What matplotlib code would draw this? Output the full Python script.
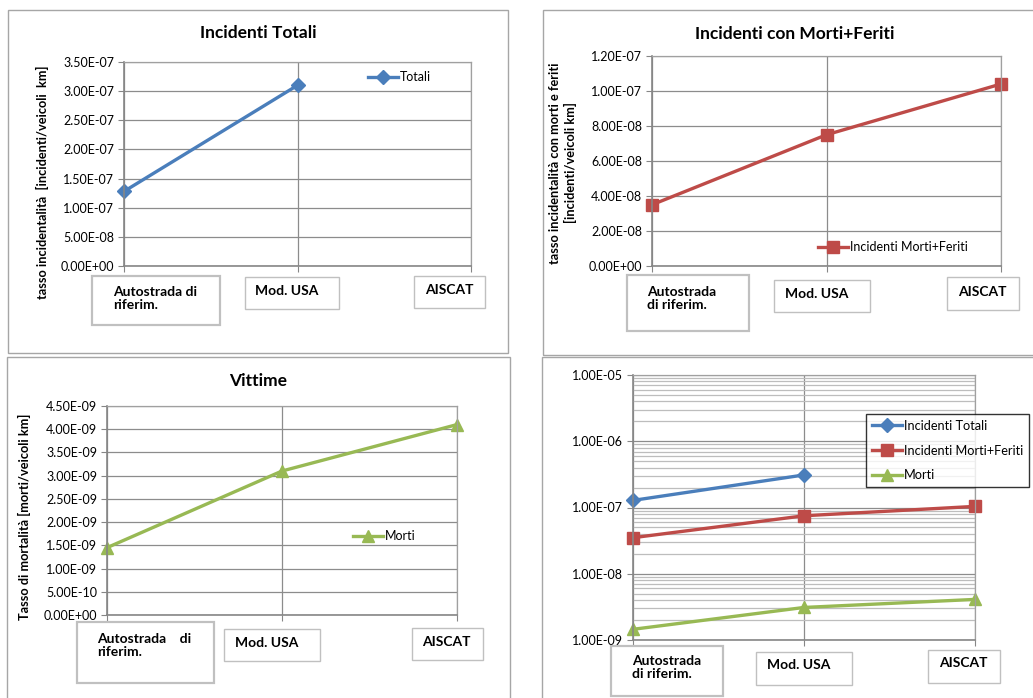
import matplotlib
matplotlib.use("Agg")
import matplotlib.pyplot as plt
from matplotlib.patches import Rectangle
from matplotlib.ticker import FuncFormatter, MultipleLocator, LogLocator, NullFormatter
import numpy as np

plt.rcParams['font.family'] = ['Lato', 'DejaVu Sans']

# ---------------- data ----------------
categories = ["Autostrada di riferim.", "Mod. USA", "AISCAT"]
totali = [1.28e-07, 3.10e-07, None]
morti_feriti = [3.5e-08, 7.5e-08, 1.04e-07]
morti = [1.45e-09, 3.10e-09, 4.10e-09]

titles = ["Incidenti Totali", "Incidenti con Morti+Feriti", "Vittime"]
ylabels = ["tasso incidentalità  [incidenti/veicoli  km]",
           "tasso incidentalità con morti e feriti\n[incidenti/veicoli km]",
           "Tasso di mortalità [morti/veicoli km]"]
legend_names = ["Totali", "Incidenti Morti+Feriti", "Morti"]
legend_names_log = ["Incidenti Totali", "Incidenti Morti+Feriti", "Morti"]
cat_wrap = {
    1: ["Autostrada di\nriferim.", "Mod. USA", "AISCAT"],
    2: ["Autostrada\ndi riferim.", "Mod. USA", "AISCAT"],
    3: ["Autostrada    di\nriferim.", "Mod. USA", "AISCAT"],
    4: ["Autostrada\ndi riferim.", "Mod. USA", "AISCAT"],
}

BLUE = "#4A7EBB"
RED = "#BE4B48"
GREEN = "#98B954"
GRID = "#8C8C8C"

W, H = 1033, 698
fig = plt.figure(figsize=(W / 100, H / 100), dpi=100)


def fx(x):
    return x / W


def fy(y):
    return 1 - y / H


def add_ax(x0, y0, x1, y1):
    return fig.add_axes([fx(x0), fy(y1), fx(x1) - fx(x0), fy(y0) - fy(y1)])


def rect(x0, y0, x1, y1, color="#A6A6A6", lw=1.0):
    r = Rectangle((fx(x0), fy(y1)), fx(x1) - fx(x0), fy(y0) - fy(y1),
                  transform=fig.transFigure, fill=False, edgecolor=color,
                  linewidth=lw, zorder=0)
    fig.patches.append(r)


sci = FuncFormatter(lambda v, p: f"{v:.2E}")
TICK_FS = 9


def style_ax(ax, ymax, step):
    ax.set_xlim(0, 2)
    ax.set_ylim(0, ymax)
    ax.yaxis.set_major_locator(MultipleLocator(step))
    ax.yaxis.set_major_formatter(sci)
    ax.set_xticks(range(len(categories)))
    ax.xaxis.set_major_formatter(NullFormatter())
    ax.grid(True, color=GRID, lw=0.9)
    ax.set_axisbelow(True)
    for s in ["top", "right"]:
        ax.spines[s].set_color("#A0A0A0")
        ax.spines[s].set_linewidth(0.9)
    for s in ["left", "bottom"]:
        ax.spines[s].set_color("#868686")
        ax.spines[s].set_linewidth(1.2)
    ax.tick_params(axis="y", length=4, color="#868686", labelsize=TICK_FS, pad=3)
    ax.tick_params(axis="x", length=4, color="#868686", direction="out")


def cat_boxes(labels, boxes, texts):
    for lab, b, t in zip(labels, boxes, texts):
        rect(*b[:4], color="#C0C0C0", lw=b[4])
        fig.text(fx(t[0]), fy(t[1]), lab, fontsize=10, fontweight="bold",
                 ha="left", va="top", linespacing=1.1)


xs = np.arange(len(categories))

# panel borders
rect(8, 10, 508, 353)
rect(543, 10, 1045, 355)
rect(7, 357, 510, 705)
rect(542, 357, 1045, 705)

# ---------- Panel 1 ----------
ax1 = add_ax(124, 62, 471, 266)
style_ax(ax1, 3.5e-07, 5e-08)
xv = [x for x, v in zip(xs, totali) if v is not None]
yv = [v for v in totali if v is not None]
l1, = ax1.plot(xv, yv, color=BLUE, lw=2.4, marker="D", ms=7, clip_on=False)
fig.text(fx(258), fy(33), titles[0], fontsize=12.5, fontweight="bold", ha="center", va="center")
fig.text(fx(42), fy(182), ylabels[0], fontsize=9.2, fontweight="bold", rotation=90, ha="center", va="center")
fig.legend([l1], [legend_names[0]], loc="center left", bbox_to_anchor=(fx(362), fy(77)),
           frameon=False, fontsize=9, handlelength=2.4, handletextpad=0.1, borderpad=0)
cat_boxes(cat_wrap[1],
          [(92, 276, 220, 325, 1.6), (245, 277, 339, 309, 1.0), (414, 276, 485, 308, 1.0)],
          [(113, 286), (255, 285), (425, 284)])

# ---------- Panel 2 ----------
ax2 = add_ax(652, 56, 1001, 266)
style_ax(ax2, 1.2e-07, 2e-08)
l2, = ax2.plot(xs, morti_feriti, color=RED, lw=2.4, marker="s", ms=8, clip_on=False)
fig.text(fx(795), fy(34), titles[1], fontsize=12.5, fontweight="bold", ha="center", va="center")
fig.text(fx(563), fy(163), ylabels[1], fontsize=9.2, fontweight="bold", rotation=90,
         ha="center", va="center", linespacing=1.25)
fig.legend([l2], [legend_names[1]], loc="center left", bbox_to_anchor=(fx(812), fy(247)),
           frameon=False, fontsize=9, handlelength=2.4, handletextpad=0.1, borderpad=0)
cat_boxes(cat_wrap[2],
          [(627, 275, 749, 331, 1.6), (774, 280, 870, 312, 1.0), (947, 277, 1019, 310, 1.0)],
          [(647, 286), (785, 288), (958, 286)])

# ---------- Panel 3 ----------
ax3 = add_ax(107, 406, 457, 615)
style_ax(ax3, 4.5e-09, 5e-10)
l3, = ax3.plot(xs, morti, color=GREEN, lw=2.4, marker="^", ms=8, clip_on=False)
fig.text(fx(258), fy(381), titles[2], fontsize=12.5, fontweight="bold", ha="center", va="center")
fig.text(fx(24), fy(517), ylabels[2], fontsize=9.2, fontweight="bold", rotation=90, ha="center", va="center")
fig.legend([l3], [legend_names[2]], loc="center left", bbox_to_anchor=(fx(347), fy(536)),
           frameon=False, fontsize=9, handlelength=2.4, handletextpad=0.1, borderpad=0)
cat_boxes(cat_wrap[3],
          [(77, 622, 214, 683, 1.6), (224, 629, 320, 661, 1.0), (412, 628, 483, 660, 1.0)],
          [(97, 633), (235, 637), (422, 636)])

# ---------- Panel 4 (log) ----------
ax4 = add_ax(633, 375, 975, 640)
ax4.set_yscale("log")
ax4.set_xlim(0, 2)
ax4.set_ylim(1e-09, 1e-05)
ax4.yaxis.set_major_locator(LogLocator(base=10, numticks=10))
ax4.yaxis.set_minor_locator(LogLocator(base=10, subs=np.arange(2, 10), numticks=50))
ax4.yaxis.set_major_formatter(sci)
ax4.yaxis.set_minor_formatter(NullFormatter())
ax4.set_xticks(range(len(categories)))
ax4.xaxis.set_major_formatter(NullFormatter())
ax4.grid(True, which="major", color=GRID, lw=0.9)
ax4.grid(True, which="minor", axis="y", color="#BDBDBD", lw=0.9)
ax4.set_axisbelow(True)
for s in ["top", "right"]:
    ax4.spines[s].set_color("#A0A0A0")
    ax4.spines[s].set_linewidth(0.9)
for s in ["left", "bottom"]:
    ax4.spines[s].set_color("#868686")
    ax4.spines[s].set_linewidth(1.2)
ax4.tick_params(axis="y", which="major", length=4, color="#868686", labelsize=TICK_FS, pad=3)
ax4.tick_params(axis="y", which="minor", length=0)
ax4.tick_params(axis="x", length=4, color="#868686")
m1, = ax4.plot(xv, yv, color=BLUE, lw=2.4, marker="D", ms=7, clip_on=False)
m2, = ax4.plot(xs, morti_feriti, color=RED, lw=2.4, marker="s", ms=8, clip_on=False)
m3, = ax4.plot(xs, morti, color=GREEN, lw=2.4, marker="^", ms=8, clip_on=False)
leg = fig.legend([m1, m2, m3], legend_names_log, loc="upper left",
                 bbox_to_anchor=(fx(866), fy(414)), frameon=True, fontsize=9.2,
                 handlelength=2.4, handletextpad=0.1, borderpad=0.45, labelspacing=1.0,
                 fancybox=False, borderaxespad=0)
leg.get_frame().set_edgecolor("black")
leg.get_frame().set_linewidth(1.0)
cat_boxes(cat_wrap[4],
          [(611, 646, 723, 696, 1.6), (756, 652, 852, 685, 1.0), (928, 650, 1000, 683, 1.0)],
          [(632, 655), (767, 659), (939, 657)])

fig.savefig("out.png", dpi=100)
